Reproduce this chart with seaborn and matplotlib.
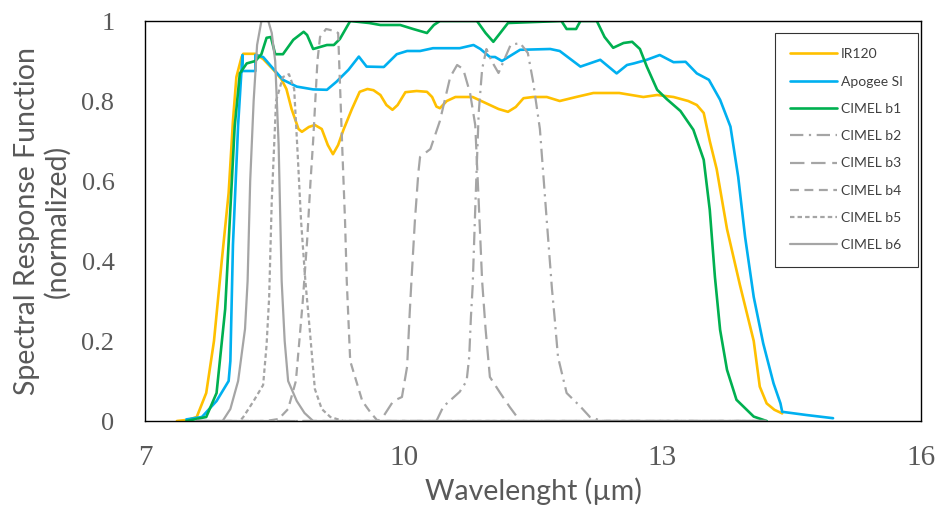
import matplotlib
matplotlib.use('Agg')
import matplotlib.pyplot as plt
import seaborn as sns
import pandas as pd

# ---- data ----
wl_ir120 = [7.37, 7.5, 7.6, 7.71, 7.8, 7.89, 7.97, 8.02, 8.06, 8.12, 8.14, 8.28, 8.37, 8.49, 8.58,
            8.64, 8.7, 8.78, 8.82, 8.9, 8.97, 9.05, 9.12, 9.18, 9.24, 9.3, 9.4, 9.49, 9.58, 9.65,
            9.73, 9.8, 9.87, 9.93, 10.02, 10.15, 10.27, 10.33, 10.38, 10.42, 10.5, 10.6, 10.8, 10.9,
            11.0, 11.1, 11.21, 11.3, 11.39, 11.5, 11.66, 11.81, 12.0, 12.2, 12.5, 12.78, 12.94, 13.13,
            13.3, 13.4, 13.48, 13.55, 13.63, 13.75, 13.9, 14.06, 14.13, 14.21, 14.3, 14.39]
srf_ir120 = [0.0, 0.003, 0.01, 0.07, 0.2, 0.4, 0.57, 0.75, 0.86, 0.91, 0.918, 0.918, 0.905, 0.878, 0.855,
             0.83, 0.78, 0.73, 0.723, 0.735, 0.74, 0.73, 0.69, 0.667, 0.69, 0.727, 0.78, 0.823, 0.83, 0.827,
             0.815, 0.79, 0.778, 0.79, 0.822, 0.825, 0.823, 0.81, 0.786, 0.782, 0.8, 0.81, 0.81, 0.8,
             0.79, 0.78, 0.773, 0.785, 0.807, 0.81, 0.81, 0.8, 0.81, 0.82, 0.82, 0.81, 0.815, 0.81,
             0.8, 0.79, 0.77, 0.7, 0.63, 0.48, 0.34, 0.2, 0.086, 0.044, 0.028, 0.019]

wl_apogee = [7.48, 7.66, 7.83, 7.97, 7.99, 8.02, 8.08, 8.12, 8.13, 8.13, 8.28, 8.28, 8.37, 8.49, 8.6,
             8.76, 8.95, 9.11, 9.22, 9.36, 9.48, 9.57, 9.77, 9.92, 10.04, 10.19, 10.34, 10.65, 10.81,
             10.89, 11.0, 11.06, 11.14, 11.35, 11.7, 11.81, 12.05, 12.28, 12.47, 12.59, 12.67, 12.82,
             12.97, 13.13, 13.27, 13.4, 13.54, 13.67, 13.79, 13.88, 13.96, 14.06, 14.17, 14.29, 14.37,
             14.39, 14.67, 14.98]
srf_apogee = [0.004, 0.01, 0.05, 0.1, 0.15, 0.44, 0.74, 0.88, 0.915, 0.875, 0.875, 0.915, 0.91, 0.88, 0.853,
              0.836, 0.829, 0.828, 0.848, 0.878, 0.911, 0.886, 0.885, 0.917, 0.925, 0.925, 0.932, 0.932, 0.94,
              0.93, 0.91, 0.91, 0.9, 0.928, 0.93, 0.925, 0.886, 0.903, 0.869, 0.89, 0.894, 0.903,
              0.915, 0.897, 0.898, 0.869, 0.853, 0.803, 0.736, 0.61, 0.46, 0.31, 0.194, 0.094, 0.044,
              0.023, 0.015, 0.007]

wl_b1 = [7.48, 7.71, 7.83, 7.93, 7.99, 8.04, 8.1, 8.18, 8.28, 8.35, 8.41, 8.46, 8.51, 8.6, 8.72, 8.84,
         8.88, 8.95, 9.03, 9.11, 9.19, 9.26, 9.38, 9.6, 9.73, 9.96, 10.11, 10.27, 10.35, 10.42, 10.85,
         10.95, 11.04, 11.12, 11.21, 11.83, 11.89, 12.0, 12.05, 12.24, 12.33, 12.43, 12.55, 12.65,
         12.74, 12.82, 12.94, 13.05, 13.21, 13.36, 13.48, 13.55, 13.61, 13.67, 13.75, 13.86, 14.06, 14.21]
srf_b1 = [0.0, 0.01, 0.07, 0.28, 0.53, 0.736, 0.869, 0.894, 0.9, 0.917, 0.958, 0.96, 0.917, 0.917, 0.953, 0.973,
          0.965, 0.93, 0.935, 0.94, 0.94, 0.955, 1.0, 0.995, 0.99, 0.99, 0.98, 0.97, 0.99, 1.0, 1.0,
          0.97, 0.948, 0.97, 0.995, 1.0, 0.98, 0.98, 1.0, 1.0, 0.96, 0.933, 0.945, 0.948,
          0.93, 0.886, 0.828, 0.805, 0.775, 0.728, 0.653, 0.528, 0.36, 0.228, 0.128, 0.053, 0.011, 0.0]

wl_b2 = [7.6, 10.38, 10.46, 10.65, 10.73, 10.76, 10.78, 10.8, 10.83, 10.87, 10.91, 10.96, 11.02, 11.1,
         11.16, 11.24, 11.35, 11.44, 11.5, 11.58, 11.66, 11.72, 11.75, 11.79, 11.89, 12.05, 12.16, 12.3, 14.2]
srf_b2 = [0.0, 0.0, 0.036, 0.073, 0.1, 0.16, 0.26, 0.336, 0.53, 0.77, 0.88, 0.93, 0.9, 0.87,
          0.9, 0.94, 0.945, 0.92, 0.85, 0.73, 0.5, 0.33, 0.26, 0.16, 0.07, 0.036, 0.01, 0.0, 0.0]

wl_b3 = [7.6, 9.7, 9.76, 9.88, 9.98, 10.04, 10.07, 10.09, 10.13, 10.17, 10.19, 10.31, 10.42, 10.54,
         10.62, 10.69, 10.77, 10.83, 10.87, 10.91, 10.95, 11.0, 11.12, 11.23, 11.35, 14.2]
srf_b3 = [0.0, 0.0, 0.01, 0.05, 0.06, 0.136, 0.27, 0.35, 0.5, 0.62, 0.66, 0.68, 0.75, 0.86,
          0.89, 0.88, 0.82, 0.74, 0.55, 0.35, 0.23, 0.11, 0.07, 0.035, 0.0, 0.0]

wl_b4 = [7.6, 8.4, 8.55, 8.66, 8.75, 8.83, 8.88, 8.92, 8.95, 9.0, 9.03, 9.1, 9.2, 9.24, 9.29, 9.32,
         9.34, 9.38, 9.45, 9.52, 9.62, 9.7, 14.2]
srf_b4 = [0.0, 0.0, 0.005, 0.03, 0.1, 0.3, 0.45, 0.6, 0.7, 0.9, 0.96, 0.98, 0.975, 0.97, 0.67, 0.5,
          0.35, 0.15, 0.1, 0.05, 0.02, 0.0, 0.0]

wl_b5 = [7.6, 8.1, 8.14, 8.26, 8.37, 8.41, 8.44, 8.47, 8.52, 8.6, 8.67, 8.73, 8.77, 8.81, 8.86, 8.91,
         8.97, 9.05, 9.15, 9.3, 14.2]
srf_b5 = [0.0, 0.0, 0.01, 0.05, 0.09, 0.19, 0.31, 0.55, 0.8, 0.86, 0.867, 0.83, 0.67, 0.5, 0.35, 0.23,
          0.08, 0.03, 0.01, 0.0, 0.0]

wl_b6 = [7.6, 7.9, 7.99, 8.08, 8.16, 8.19, 8.22, 8.26, 8.3, 8.35, 8.43, 8.47, 8.51, 8.55, 8.585, 8.62,
         8.66, 8.76, 8.85, 8.95, 14.2]
srf_b6 = [0.0, 0.0, 0.03, 0.1, 0.23, 0.35, 0.6, 0.8, 0.94, 1.0, 1.0, 0.97, 0.9, 0.69, 0.35, 0.2,
          0.1, 0.05, 0.02, 0.0, 0.0]

series_names = ['IR120', 'Apogee SI', 'CIMEL b1', 'CIMEL b2', 'CIMEL b3',
                'CIMEL b4', 'CIMEL b5', 'CIMEL b6']
x_ticks = [7, 10, 13, 16]
y_ticks = [0, 0.2, 0.4, 0.6, 0.8, 1.0]
y_tick_labels = ['0', '0.2', '0.4', '0.6', '0.8', '1']

curves = [(wl_ir120, srf_ir120), (wl_apogee, srf_apogee), (wl_b1, srf_b1), (wl_b2, srf_b2),
          (wl_b3, srf_b3), (wl_b4, srf_b4), (wl_b5, srf_b5), (wl_b6, srf_b6)]

colors = ['#FFC000', '#00B0F0', '#00B050'] + ['#A5A5A5'] * 5
styles = ['-', '-', '-', (0, (6, 2.5, 1, 2.5)), (0, (6.5, 3)), (0, (4, 2.5)), (0, (2, 1.4)), '-']
widths = [1.9, 1.9, 1.9, 1.6, 1.6, 1.6, 1.6, 1.6]

sns.set_style('white')
plt.rcParams['font.family'] = ['Lato', 'DejaVu Sans']

fig = plt.figure(figsize=(9.35, 5.09), dpi=100)
ax = fig.add_axes([145 / 935, 88 / 509, 776 / 935, 400 / 509])

for name, (wl, srf), c, ls, lw in zip(series_names, curves, colors, styles, widths):
    df = pd.DataFrame({'wl': wl, 'srf': srf})
    sns.lineplot(data=df, x='wl', y='srf', ax=ax, color=c, linestyle=ls, linewidth=lw,
                 label=name, sort=False, estimator=None)

ax.set_xlim(7, 16)
ax.set_ylim(0, 1)
ax.set_xticks(x_ticks)
ax.set_yticks(y_ticks)
ax.set_yticklabels(y_tick_labels)
for lab in ax.get_xticklabels() + ax.get_yticklabels():
    lab.set_family('Liberation Serif')
    lab.set_color('#595959')
ax.tick_params(axis='x', length=0, labelsize=21, pad=17)
ax.tick_params(axis='y', length=0, labelsize=19, pad=22)

for sp in ax.spines.values():
    sp.set_color('black')
    sp.set_linewidth(1.0)

ax.set_xlabel('Wavelenght (µm)', fontsize=20.5, color='#595959', labelpad=5)
ax.set_ylabel('Spectral Response Function\n(normalized)', fontsize=20.5, color='#595959',
              labelpad=8, linespacing=1.15)

leg = ax.legend(loc='upper right', bbox_to_anchor=(0.996, 0.97), borderaxespad=0,
                fontsize=10, frameon=True, fancybox=False, handlelength=3.4,
                labelspacing=1.1, borderpad=1.1, handletextpad=0.25)
leg.get_frame().set_edgecolor('black')
leg.get_frame().set_linewidth(0.8)
for t in leg.get_texts():
    t.set_color('#404040')

fig.savefig('out.png', dpi=100)
